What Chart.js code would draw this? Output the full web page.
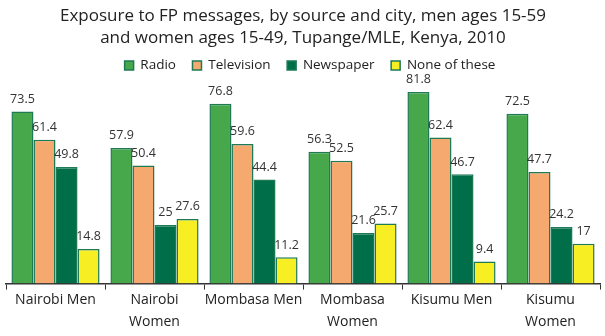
<!DOCTYPE html>
<html>
<head>
<meta charset="utf-8">
<script src="https://cdn.jsdelivr.net/npm/chart.js@4/dist/chart.umd.min.js"></script>
<style>
  html, body { margin: 0; padding: 0; background: #fff; }
  #wrap { width: 605px; height: 336px; }
</style>
</head>
<body>
<div id="wrap"><canvas id="c" width="605" height="336"></canvas></div>
<script>
const categories = [
  "Nairobi Men", ["Nairobi", "Women"], "Mombasa Men",
  ["Mombasa", "Women"], "Kisumu Men", ["Kisumu", "Women"]
];
const radio = [73.5, 57.9, 76.8, 56.3, 81.8, 72.5];
const television = [61.4, 50.4, 59.6, 52.5, 62.4, 47.7];
const newspaper = [49.8, 25, 44.4, 21.6, 46.7, 24.2];
const noneOfThese = [14.8, 27.6, 11.2, 25.7, 9.4, 17];

const FONT = "'Open Sans', 'Noto Sans', sans-serif";

// Draws each bar's value just above it
const valueLabels = {
  id: "valueLabels",
  afterDatasetsDraw(chart) {
    const ctx = chart.ctx;
    ctx.save();
    ctx.font = "12.5px " + FONT;
    ctx.fillStyle = "#333";
    ctx.textAlign = "center";
    ctx.textBaseline = "bottom";
    chart.data.datasets.forEach((ds, i) => {
      chart.getDatasetMeta(i).data.forEach((bar, j) => {
        ctx.fillText(String(ds.data[j]), bar.x, bar.y - 6);
      });
    });
    ctx.restore();
  }
};

// Nudges the legend row a little to the right of centre
const legendShift = {
  id: "legendShift",
  afterLayout(chart) {
    const lg = chart.legend;
    if (lg) { lg.left += 7; lg.right += 7; }
  }
};

const border = "#1d7a55";

new Chart(document.getElementById("c"), {
  type: "bar",
  data: {
    labels: categories,
    datasets: [
      { label: "Radio", data: radio, backgroundColor: "#46a84a", borderColor: border, borderWidth: 1.5 },
      { label: "Television", data: television, backgroundColor: "#f6a96e", borderColor: border, borderWidth: 1.5 },
      { label: "Newspaper", data: newspaper, backgroundColor: "#016e4a", borderColor: border, borderWidth: 1.5 },
      { label: "None of these", data: noneOfThese, backgroundColor: "#f8ee24", borderColor: border, borderWidth: 1.5 }
    ]
  },
  options: {
    responsive: false,
    animation: false,
    layout: { padding: { left: 6, right: 5, top: 0, bottom: 3 } },
    datasets: { bar: { categoryPercentage: 0.89, barPercentage: 1.0 } },
    plugins: {
      title: {
        display: true,
        text: ["Exposure to FP messages, by source and city, men ages 15-59",
               "and women ages 15-49, Tupange/MLE, Kenya, 2010"],
        font: { family: FONT, size: 17, weight: "normal", lineHeight: 1.3 },
        color: "#222",
        padding: { top: 5, bottom: -7 }
      },
      legend: {
        labels: {
          font: { family: FONT, size: 13.5 },
          color: "#222",
          boxWidth: 9,
          boxHeight: 9,
          padding: 16.5
        }
      },
      tooltip: { enabled: false }
    },
    scales: {
      x: {
        grid: { display: true, drawOnChartArea: false, offset: true, tickLength: 6, color: "#333", tickColor: "#333" },
        border: { display: true, color: "#333", width: 1.5 },
        ticks: { font: { family: FONT, size: 14, lineHeight: 1.55 }, color: "#222", maxRotation: 0, autoSkip: false, padding: 0 }
      },
      y: {
        display: false,
        min: 0,
        max: 86
      }
    }
  },
  plugins: [valueLabels, legendShift]
});
</script>
</body>
</html>
